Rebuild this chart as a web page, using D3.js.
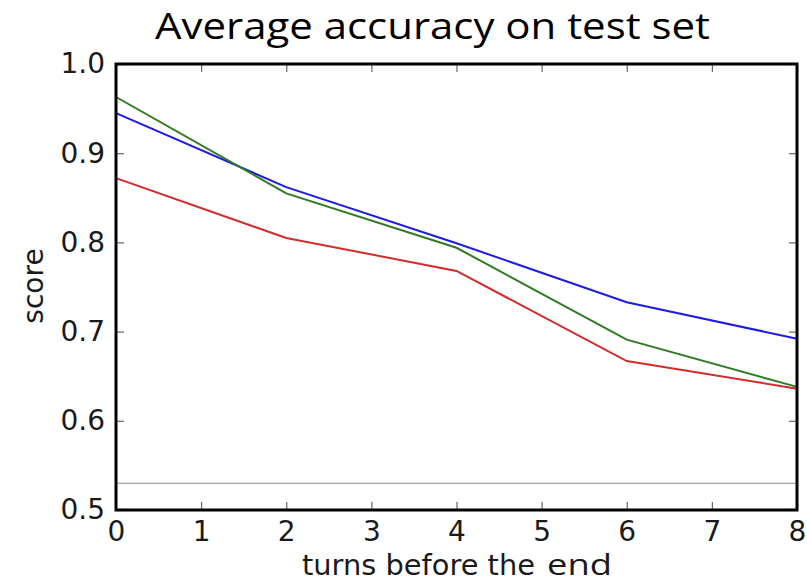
<!DOCTYPE html>
<html>
<head>
<meta charset="utf-8">
<script src="https://cdn.jsdelivr.net/npm/d3@7/dist/d3.min.js"></script>
<style>
  body { margin: 0; background: #fff; }
  svg { display: block; }
</style>
</head>
<body>
<svg id="chart" width="807" height="583"></svg>
<script>
// chart data
const turns = [0, 2, 4, 6, 8];
const blueScores = [0.945, 0.862, 0.799, 0.733, 0.692];
const greenScores = [0.963, 0.855, 0.794, 0.691, 0.638];
const redScores = [0.872, 0.805, 0.768, 0.667, 0.636];
const baselineScore = 0.53;
const xTicks = [0, 1, 2, 3, 4, 5, 6, 7, 8];
const yTicks = [0.5, 0.6, 0.7, 0.8, 0.9, 1.0];

const series = [
  { name: 'blue', values: blueScores, color: '#1c1ce6' },
  { name: 'green', values: greenScores, color: '#2f7a22' },
  { name: 'red', values: redScores, color: '#d22c2c' }
];

const margin = { top: 64, right: 10, bottom: 73, left: 116 };
const svg = d3.select('#chart');
const width = 807 - margin.left - margin.right;
const height = 583 - margin.top - margin.bottom;

const x = d3.scaleLinear().domain([0, 8]).range([0, width]);
const y = d3.scaleLinear().domain([0.5, 1.0]).range([height, 0]);

const g = svg.append('g').attr('transform', `translate(${margin.left},${margin.top})`);

// inward ticks on all four sides
function styleAxis(sel) {
  sel.select('.domain').remove();
  sel.selectAll('.tick line').attr('stroke', '#666').attr('stroke-width', 1.2);
  sel.selectAll('.tick text')
    .attr('fill', '#1a1a1a')
    .style('font-family', 'DejaVu Sans')
    .style('font-size', '28px');
}

g.append('g')
  .attr('transform', `translate(0,${height})`)
  .call(d3.axisBottom(x).tickValues(xTicks).tickFormat(d3.format('d')).tickSizeInner(-8).tickSizeOuter(0).tickPadding(11))
  .call(styleAxis);

g.append('g')
  .call(d3.axisTop(x).tickValues(xTicks).tickFormat('').tickSizeInner(-8).tickSizeOuter(0))
  .call(styleAxis);

g.append('g')
  .call(d3.axisLeft(y).tickValues(yTicks).tickFormat(d3.format('.1f')).tickSizeInner(-8).tickSizeOuter(0).tickPadding(11))
  .call(styleAxis);

g.append('g')
  .attr('transform', `translate(${width},0)`)
  .call(d3.axisRight(y).tickValues(yTicks).tickFormat('').tickSizeInner(-8).tickSizeOuter(0))
  .call(styleAxis);

// thin gray reference line
g.append('line')
  .attr('x1', x(0)).attr('x2', x(8))
  .attr('y1', y(baselineScore)).attr('y2', y(baselineScore))
  .attr('stroke', '#8a8a8a')
  .attr('stroke-width', 1.2);

const line = d3.line()
  .x((d, i) => x(turns[i]))
  .y(d => y(d));

g.selectAll('path.series')
  .data(series)
  .enter().append('path')
  .attr('class', 'series')
  .attr('d', d => line(d.values))
  .attr('fill', 'none')
  .attr('stroke', d => d.color)
  .attr('stroke-width', 2);

// frame
g.append('rect')
  .attr('x', 0).attr('y', 0)
  .attr('width', width).attr('height', height)
  .attr('fill', 'none')
  .attr('stroke', '#000')
  .attr('stroke-width', 3);

// title
svg.append('text')
  .attr('x', 155).attr('y', 39)
  .attr('textLength', 555)
  .attr('lengthAdjust', 'spacingAndGlyphs')
  .style('font-family', 'Open Sans')
  .style('font-size', '37px')
  .attr('fill', '#000')
  .text('Average accuracy on test set');

// axis labels
svg.append('text')
  .attr('x', 302).attr('y', 575)
  .attr('textLength', 233)
  .attr('lengthAdjust', 'spacingAndGlyphs')
  .style('font-family', 'DejaVu Sans')
  .style('font-size', '28px')
  .attr('fill', '#1a1a1a')
  .text('turns before the');

svg.append('text')
  .attr('x', 547).attr('y', 575)
  .attr('textLength', 65)
  .attr('lengthAdjust', 'spacingAndGlyphs')
  .style('font-family', 'Open Sans')
  .style('font-size', '29px')
  .attr('fill', '#1a1a1a')
  .text('end');

svg.append('text')
  .attr('transform', 'translate(43,286) rotate(-90)')
  .attr('text-anchor', 'middle')
  .style('font-family', 'DejaVu Sans')
  .style('font-size', '28px')
  .attr('fill', '#1a1a1a')
  .text('score');
</script>
</body>
</html>
